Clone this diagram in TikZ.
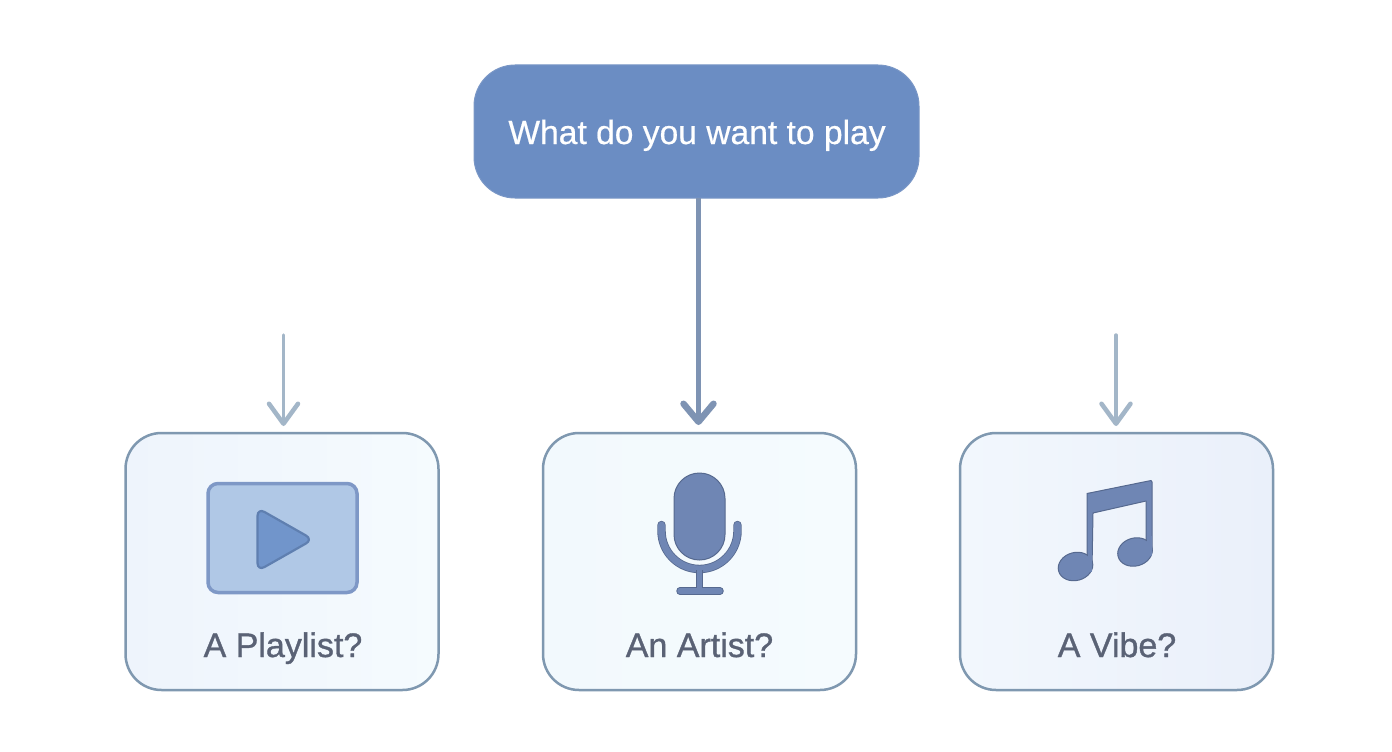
\documentclass[tikz,border=0pt]{standalone}
\usepackage{fontspec}
\setmainfont{Liberation Sans}
\newfontfamily\labelfont[FakeBold=1]{Liberation Sans}
\newfontfamily\toplabelfont[FakeBold=0.5]{Liberation Sans}
\usetikzlibrary{arrows.meta}
\definecolor{topfill}{HTML}{6B8DC3}
\definecolor{topedge}{HTML}{7A97C6}
\definecolor{boxedge}{HTML}{7F98B0}
\definecolor{labeltext}{HTML}{5A6275}
\definecolor{sidearrow}{HTML}{A3B6C8}
\definecolor{midarrow}{HTML}{7E93B3}
\definecolor{iconblue}{HTML}{6F86B4}
\definecolor{iconedge}{HTML}{56698F}
\definecolor{gradA}{HTML}{EEF4FC}
\definecolor{gradB}{HTML}{F5FBFE}
\definecolor{gradC}{HTML}{F2F9FD}
\definecolor{gradD}{HTML}{F5FBFE}
\definecolor{gradE}{HTML}{F2F7FD}
\definecolor{gradF}{HTML}{EAF0FA}
\definecolor{playfill}{HTML}{B0C8E6}
\definecolor{playedge}{HTML}{7E98C6}
\definecolor{trifill}{HTML}{7195CB}
\definecolor{triedge}{HTML}{5F7FB0}
\tikzset{
  choicebox/.style={draw=boxedge,line width=2.5pt,rounded corners=36pt,minimum width=313pt,minimum height=257pt,inner sep=0pt,outer sep=0pt},
  choicelabel/.style={text=labeltext,font=\labelfont\fontsize{34}{36}\selectfont,inner sep=0pt,anchor=base},
  sidelink/.style={draw=sidearrow,line width=3.4pt,line cap=round,shorten >=7pt,-{Straight Barb[length=20pt,width=29pt,line width=4.5pt,round]}},
  midlink/.style={draw=midarrow,line width=5pt,shorten >=8pt,-{Straight Barb[length=18pt,width=30pt,line width=6.5pt,round]}},
  icon/.style={fill=iconblue,draw=iconedge,line width=1pt,line join=round}
}
\begin{document}
\begin{tikzpicture}[x=1pt,y=-1pt]
\useasboundingbox (0,0) rectangle (1392,752);
\fill[white] (0,0) rectangle (1392,752);
% top
\node[fill=topfill,draw=topedge,line width=1pt,rounded corners=41pt,minimum width=445pt,minimum height=133pt,inner sep=0pt,outer sep=0pt] (top) at (696.5,131.5) {};
\node[text=white,font=\toplabelfont\fontsize{33.6}{36}\selectfont,inner sep=0pt,anchor=base] (toplabel) at (697,144) {What do you want to play};
% boxes
\node[choicebox,left color=gradA,right color=gradB] (box1) at (282,561.5) {};
\node[choicebox,left color=gradC,right color=gradD] (box2) at (699.5,561.5) {};
\node[choicebox,left color=gradE,right color=gradF] (box3) at (1116.5,561.5) {};
% connectors
\coordinate (s1) at (283.5,335);
\coordinate (s3) at (1116,335);
\coordinate (e1) at (283.5,433);
\coordinate (e3) at (1116,433);
\coordinate (e2) at (698.5,433);
\coordinate (s2) at (698.5,198);
\draw[sidelink] (s1) -- (e1);
\draw[sidelink] (s3) -- (e3);
\draw[midlink] (s2) -- (e2);
% labels
\node[choicelabel] (l1) at (283,657) {A Playlist?};
\node[choicelabel] (l2) at (699.5,657) {An Artist?};
\node[choicelabel] (l3) at (1117,657) {A Vibe?};
% play icon
\draw[fill=playfill,draw=playedge,line width=3.5pt,rounded corners=10pt] (208,483.5) rectangle (357,592.5);
\draw[fill=trifill,draw=triedge,line width=2.2pt,line join=round,rounded corners=8pt] (257.5,508) -- (313,539.5) -- (257.5,571) -- cycle;
% microphone
\draw[icon] (674,498.5) arc[start angle=180,end angle=360,radius=25.5] -- (725,534.5) arc[start angle=0,end angle=180,radius=25.5] -- cycle;
\draw[draw=iconedge,line width=8.4pt,line cap=round] (661.5,525) -- (661.5,531) arc[start angle=180,end angle=0,radius=38] -- (737.5,525);
\draw[draw=iconblue,line width=6.8pt,line cap=round] (661.5,525) -- (661.5,531) arc[start angle=180,end angle=0,radius=38] -- (737.5,525);
\draw[draw=iconedge,line width=6.5pt] (699.5,570) -- (699.5,591);
\draw[draw=iconedge,line width=7.5pt,line cap=round] (680,591) -- (720,591);
\draw[draw=iconblue,line width=5pt] (699.5,568) -- (699.5,592);
\draw[draw=iconblue,line width=5.5pt,line cap=round] (680,591) -- (720,591);
% note
\draw[icon] (1087,493.5) -- (1151,480.5) -- (1152,482) -- (1152,552) -- (1146,552) -- (1146,501) -- (1093,513) -- (1092,568) -- (1087,568) -- cycle;
\draw[icon,rotate around={15:(1075.5,566.5)}] (1075.5,566.5) ellipse[x radius=17.5,y radius=14];
\draw[icon,rotate around={15:(1135,552)}] (1135,552) ellipse[x radius=17.5,y radius=14];
\fill[iconblue] (1087.6,550) rectangle (1091.6,572);
\fill[iconblue] (1146.6,536) rectangle (1151.6,556);
\end{tikzpicture}
\end{document}
